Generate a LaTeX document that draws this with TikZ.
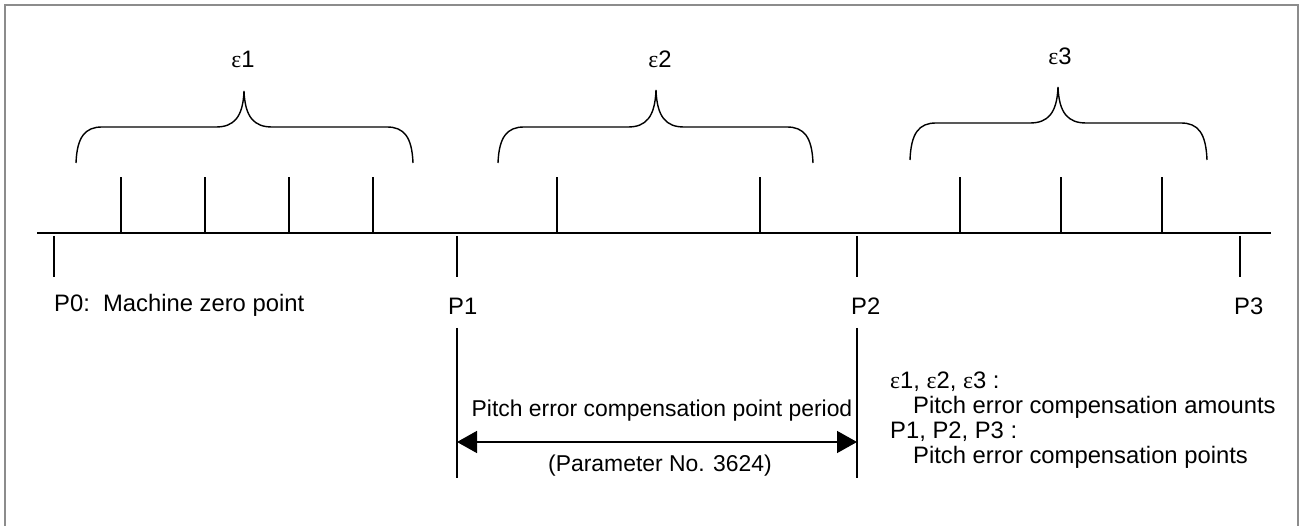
\documentclass[tikz,border=0pt]{standalone}
\usepackage{fontspec}
\setmainfont{Liberation Sans}
\newfontfamily\epsfont{Liberation Serif}
\usetikzlibrary{arrows.meta}
\begin{document}
\begin{tikzpicture}[x=1pt,y=-1pt,
  ln/.style={line width=1.5pt,black},
  frm/.style={line width=2pt,gray!90},
  lbl/.style={inner sep=0pt,anchor=base west,font=\fontsize{23.8}{25}\selectfont},
  elbl/.style={inner sep=0pt,anchor=base,font=\fontsize{23.8}{25}\selectfont},
  dimarrow/.style={line width=1.5pt,{Triangle[length=20pt,width=22pt]}-{Triangle[length=20pt,width=22pt]}}
]
\useasboundingbox (0,0) rectangle (1302,526);
% frame
\draw[frm] (4.5,527) -- (4.5,5) -- (1298,5) -- (1298,527);
% axis
\coordinate (axL) at (37,233);
\coordinate (axR) at (1271,233);
\draw[ln] (axL) -- (axR);
% ticks above axis
\foreach \x [count=\i] in {121,205,289,373,557,760,960,1061,1162}{
  \coordinate (tb\i) at (\x,233);
  \coordinate (tt\i) at (\x,177);
  \draw[ln] (tb\i) -- (tt\i);
}
% point ticks below axis
\foreach \x/\n in {54/0,457/1,857/2,1240/3}{
  \coordinate (p\n a) at (\x,236);
  \coordinate (p\n b) at (\x,277);
  \draw[ln] (p\n a) -- (p\n b);
}
% long lines for P1, P2
\coordinate (p1c) at (457,328); \coordinate (p1d) at (457,478);
\coordinate (p2c) at (857,328); \coordinate (p2d) at (857,478);
\draw[ln] (p1c) -- (p1d);
\draw[ln] (p2c) -- (p2d);
% dimension arrow
\coordinate (arL) at (457,442);
\coordinate (arR) at (857,442);
\draw[dimarrow] (arL) -- (arR);
% braces
\newcommand{\bracepath}[6]{% L, T, R, yend, yh, ytip
  \draw[ln,line width=1.4pt] (#1,#4) .. controls (#1+1,#5+10) and (#1+9,#5) .. (#1+26,#5)
    -- (#2-28,#5) .. controls (#2-10,#5) and (#2-1,#5-10) .. (#2,#6)
    .. controls (#2+1,#5-10) and (#2+10,#5) .. (#2+28,#5)
    -- (#3-26,#5) .. controls (#3-9,#5) and (#3-1,#5+10) .. (#3,#4);}
\bracepath{76}{244}{413}{163}{127}{91}
\bracepath{498}{656}{813}{163}{127}{90}
\bracepath{910}{1058}{1207}{160}{123}{87}
% epsilon labels
\node[elbl] (e1) at (243,68) {{\epsfont ε}1};
\node[elbl] (e2) at (660,68) {{\epsfont ε}2};
\node[elbl] (e3) at (1060,65) {{\epsfont ε}3};
% point labels
\node[lbl] (l0) at (54,312) {P0:\ \ Machine zero point};
\node[lbl] (l1) at (448,315) {P1};
\node[lbl] (l2) at (851,315) {P2};
\node[lbl] (l3) at (1234,315) {P3};
% dimension texts
\node[elbl,font=\fontsize{22.9}{25}\selectfont] (dim1) at (662,417) {Pitch error compensation point period};
\node[elbl,font=\fontsize{22.9}{25}\selectfont] (dim2) at (660,472) {(Parameter No. 3624)};
% legend
\node[lbl] (g1) at (890,389) {{\epsfont ε}1, {\epsfont ε}2, {\epsfont ε}3 :};
\node[lbl] (g2) at (913,414) {Pitch error compensation amounts};
\node[lbl] (g3) at (890,439) {P1, P2, P3 :};
\node[lbl] (g4) at (913,464) {Pitch error compensation points};
\end{tikzpicture}
\end{document}
